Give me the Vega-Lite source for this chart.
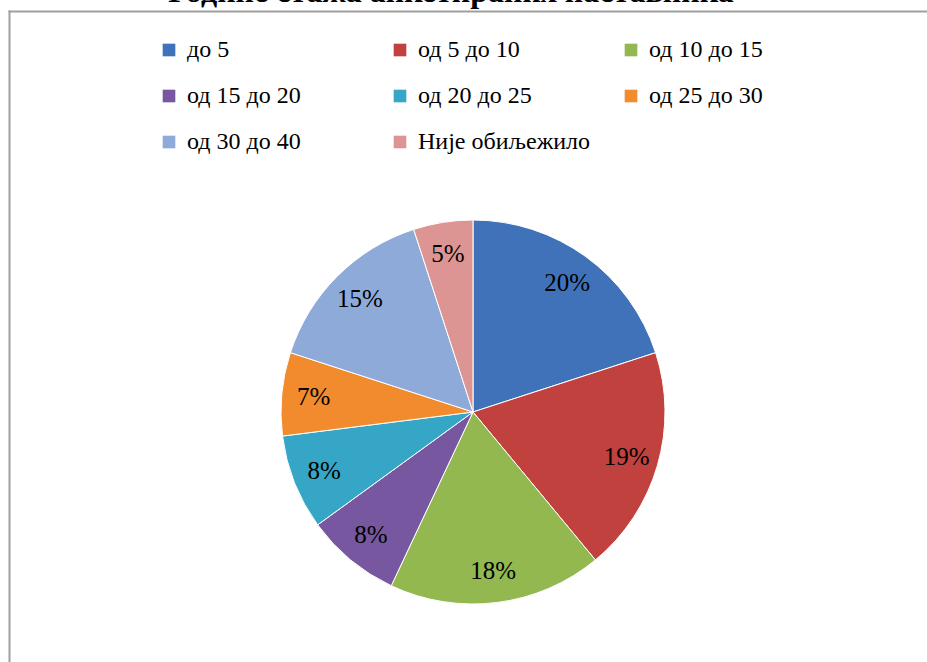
{
  "$schema": "https://vega.github.io/schema/vega-lite/v6.json",
  "usermeta": {"embedOptions": {"actions": false}},
  "autosize": "none",
  "padding": {"left": 19, "top": 11, "right": 0, "bottom": 0},
  "width": 908,
  "height": 802,
  "background": "white",
  "view": {"stroke": "transparent"},
  "title": {
    "text": "Године стажа анкетираних наставника",
    "font": "Liberation Serif",
    "fontSize": 32,
    "fontWeight": "bold",
    "color": "#000000",
    "anchor": "middle",
    "dx": -22,
    "dy": 30,
    "baseline": "alphabetic",
    "offset": 7
  },
  "config": {
    "view": {"stroke": "transparent"},
    "axis": {"domainWidth": 2, "domainCap": "square", "ticks": false, "labels": false, "grid": false, "title": null},
    "legend": {
      "orient": "none",
      "legendX": 138,
      "legendY": 27,
      "direction": "horizontal",
      "columns": 3,
      "gridAlign": "all",
      "columnPadding": 28,
      "rowPadding": 22,
      "padding": 0,
      "symbolType": "square",
      "symbolSize": 160,
      "symbolStrokeWidth": 0,
      "symbolOffset": 0,
      "labelOffset": 6,
      "labelFont": "Liberation Serif",
      "labelFontSize": 24,
      "labelColor": "#000000",
      "labelLimit": 300,
      "title": null
    }
  },
  "data": {
    "values": [
      {"i": 1, "cat": "до 5", "v": 0.20},
      {"i": 2, "cat": "од 5 до 10", "v": 0.19},
      {"i": 3, "cat": "од 10 до 15", "v": 0.18},
      {"i": 4, "cat": "од 15 до 20", "v": 0.08},
      {"i": 5, "cat": "од 20 до 25", "v": 0.08},
      {"i": 6, "cat": "од 25 до 30", "v": 0.07},
      {"i": 7, "cat": "од 30 до 40", "v": 0.15},
      {"i": 8, "cat": "Није обиљежило", "v": 0.05}
    ]
  },
  "layer": [
    {
      "mark": {"type": "point", "opacity": 0},
      "encoding": {
        "x": {"datum": 0, "type": "quantitative", "scale": {"domain": [0, 1], "range": [-10, 908]}, "axis": {"orient": "top", "domainColor": "#9f9f9f"}},
        "y": {"datum": 0, "type": "quantitative", "scale": {"domain": [0, 1]}, "axis": {"orient": "left", "offset": 10, "domainColor": "#9f9f9f"}}
      }
    },
    {
      "mark": {"type": "arc", "outerRadius": 192, "stroke": "#ffffff", "strokeWidth": 1},
      "encoding": {
        "theta": {"field": "v", "type": "quantitative", "stack": true},
        "order": {"field": "i", "type": "quantitative"},
        "color": {
          "field": "cat",
          "type": "nominal",
          "sort": null,
          "scale": {
            "domain": ["до 5", "од 5 до 10", "од 10 до 15", "од 15 до 20", "од 20 до 25", "од 25 до 30", "од 30 до 40", "Није обиљежило"],
            "range": ["#3f72b9", "#c0413e", "#93b84f", "#7657a0", "#35a6c6", "#f28a2e", "#8eaad9", "#dd9594"]
          },
          "legend": {"title": null}
        }
      }
    },
    {
      "mark": {"type": "text", "radius": 160, "font": "Liberation Serif", "fontSize": 25, "color": "#000000", "baseline": "middle", "align": "center"},
      "encoding": {
        "theta": {"field": "v", "type": "quantitative", "stack": true},
        "order": {"field": "i", "type": "quantitative"},
        "text": {"field": "v", "type": "quantitative", "format": ".0%"}
      }
    }
  ]
}
